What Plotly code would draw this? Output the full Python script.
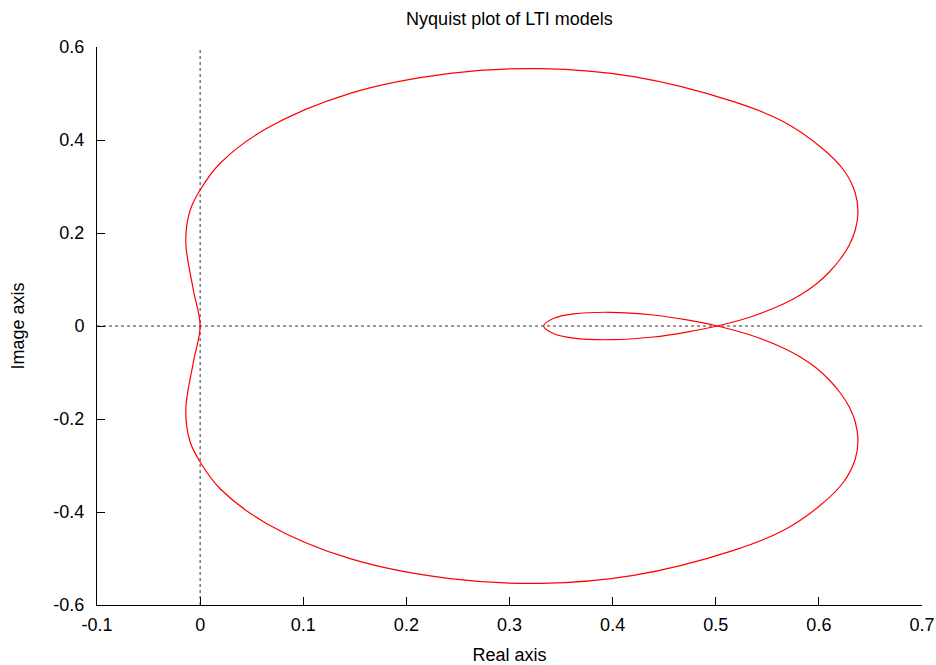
import plotly.graph_objects as go

# Nyquist curve: key points, traced from the origin
# around the whole path (upper outer lobe -> inner loop -> lower outer lobe).
re_vals = [
    # upper outer lobe (origin -> crossing at 0.5)
    0.000, -0.0065, -0.0139, -0.0097, 0.000, 0.0194, 0.0647, 0.1455, 0.2425, 0.330,
    0.4203, 0.5173, 0.5658, 0.6014, 0.6240, 0.6353, 0.6379, 0.6353, 0.6295, 0.6208,
    0.6101, 0.5975, 0.5820, 0.5655, 0.5335, 0.5014,
    # inner loop
    0.472, 0.4394, 0.3977, 0.362, 0.343, 0.3331,
    0.343, 0.362, 0.3977, 0.4394, 0.472, 0.5014,
    # lower outer lobe (crossing -> origin)
    0.5335, 0.5655, 0.5820, 0.5975, 0.6101, 0.6208, 0.6295, 0.6353, 0.6379, 0.6353,
    0.6240, 0.6014, 0.5658, 0.5173, 0.4203, 0.330, 0.2425, 0.1455, 0.0647, 0.0194,
    0.000, -0.0097, -0.0139, -0.0065, 0.000,
]
im_vals = [
    0.000, 0.077, 0.181, 0.249, 0.2925, 0.350, 0.4251, 0.5004, 0.5434, 0.5534,
    0.5362, 0.4824, 0.4394, 0.3856, 0.3355, 0.2860, 0.2430, 0.2065, 0.1742, 0.1441,
    0.1161, 0.0903, 0.0667, 0.0473, 0.0194, 0.000,
    -0.013, -0.0237, -0.0295, -0.026, -0.0166, 0.000,
    0.0166, 0.026, 0.0295, 0.0237, 0.013, 0.000,
    -0.0194, -0.0473, -0.0667, -0.0903, -0.1161, -0.1441, -0.1742, -0.2065, -0.2430, -0.2860,
    -0.3355, -0.3856, -0.4394, -0.4824, -0.5362, -0.5534, -0.5434, -0.5004, -0.4251, -0.350,
    -0.2925, -0.249, -0.181, -0.077, 0.000,
]

x_ticks = [-0.1, 0, 0.1, 0.2, 0.3, 0.4, 0.5, 0.6, 0.7]
x_labels = ["-0.1", "0", "0.1", "0.2", "0.3", "0.4", "0.5", "0.6", "0.7"]
y_ticks = [-0.6, -0.4, -0.2, 0, 0.2, 0.4, 0.6]
y_labels = ["-0.6", "-0.4", "-0.2", "0", "0.2", "0.4", "0.6"]

FONT = "Liberation Sans, Arial, sans-serif"
FS = 18

fig = go.Figure()

# dotted zero axes
fig.add_trace(go.Scatter(x=[0, 0], y=[y_ticks[0], y_ticks[-1]], mode="lines",
                         line=dict(color="#333333", width=1, dash="dot"),
                         hoverinfo="skip", showlegend=False))
fig.add_trace(go.Scatter(x=[x_ticks[0], x_ticks[-1]], y=[0, 0], mode="lines",
                         line=dict(color="#333333", width=1, dash="dot"),
                         hoverinfo="skip", showlegend=False))

fig.add_trace(go.Scatter(x=re_vals, y=im_vals, mode="lines",
                         line=dict(color="#ff0000", width=1.2, shape="spline", smoothing=1.0),
                         showlegend=False))

fig.update_layout(
    width=936, height=665,
    margin=dict(l=97, r=14, t=47, b=60, autoexpand=False),
    paper_bgcolor="white", plot_bgcolor="white",
    font=dict(family=FONT, size=FS, color="black"),
    title=dict(text="Nyquist plot of LTI models", x=0.5, xref="paper",
               y=1 - 19 / 665, yref="container", yanchor="middle",
               font=dict(family=FONT, size=FS, color="black")),
    showlegend=False,
)
fig.update_xaxes(
    range=[x_ticks[0], x_ticks[-1]], tickvals=x_ticks, ticktext=x_labels,
    showgrid=False, zeroline=False, showline=True, linecolor="black", linewidth=1,
    ticks="inside", ticklen=8, tickcolor="black", tickwidth=1,
    ticklabelstandoff=3, automargin=False,
    title=dict(text="Real axis", standoff=14, font=dict(family=FONT, size=FS)),
    tickfont=dict(family=FONT, size=FS),
)
fig.update_yaxes(
    range=[y_ticks[0], y_ticks[-1]], tickvals=y_ticks, ticktext=y_labels,
    showgrid=False, zeroline=False, showline=True, linecolor="black", linewidth=1,
    ticks="inside", ticklen=8, tickcolor="black", tickwidth=1,
    ticklabelstandoff=8, automargin=False,
    title=dict(text="Image axis", standoff=24, font=dict(family=FONT, size=FS)),
    tickfont=dict(family=FONT, size=FS),
)

fig.write_html("out.html")
